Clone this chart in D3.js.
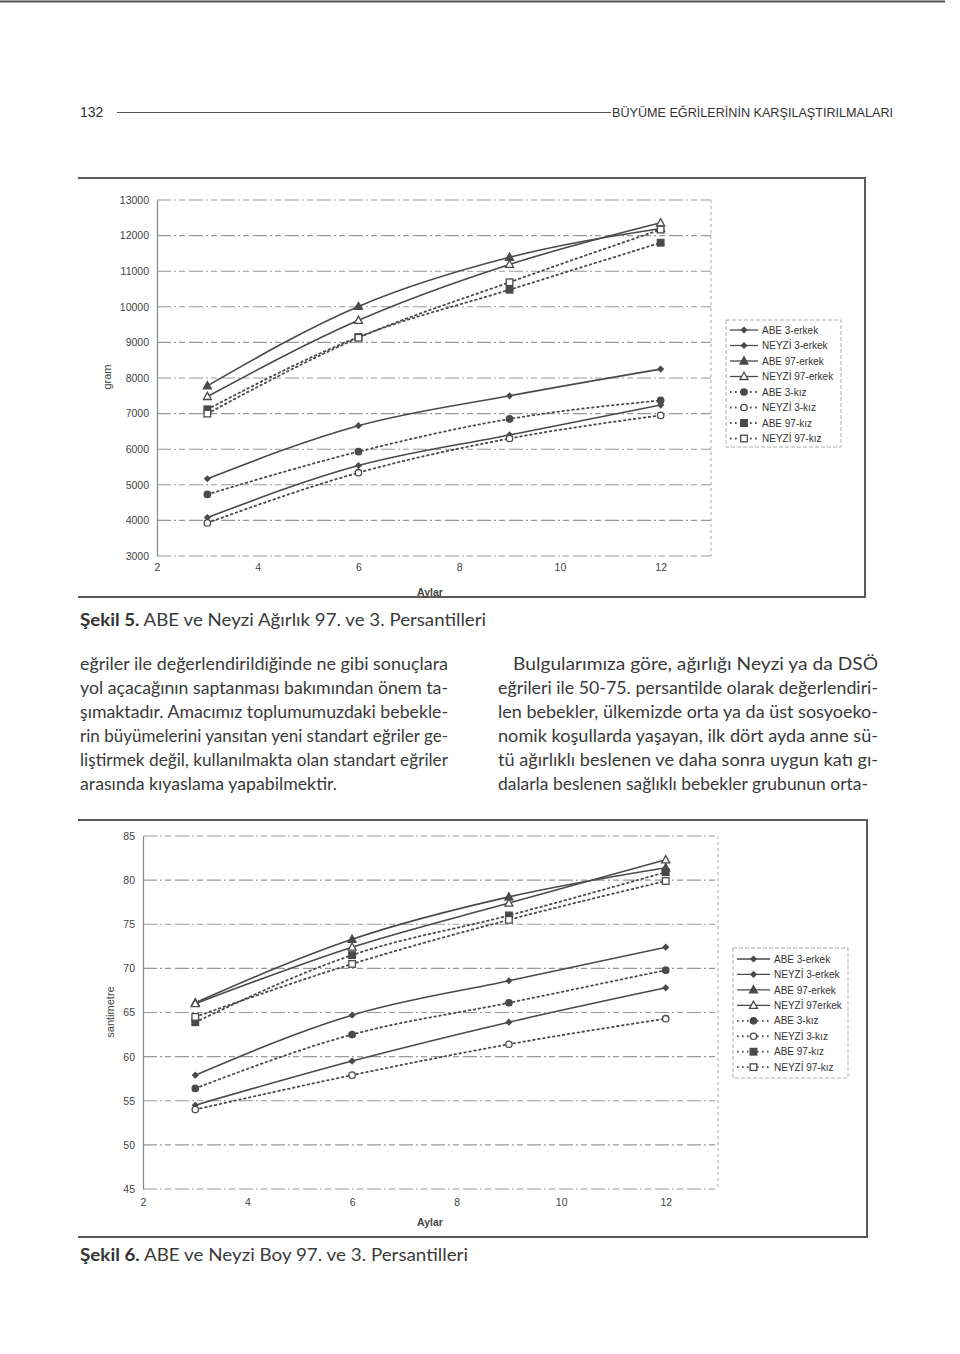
<!doctype html>
<html>
<head>
<meta charset="utf-8">
<script src="https://cdn.jsdelivr.net/npm/d3@7"></script>
<style>
    html, body { margin: 0; padding: 0; background: #fff; }
    svg { display: block; }
    .tick-label { font-family: "Liberation Sans", Arial, sans-serif; font-size: 10.5px; fill: #444; }
    .legend-label { font-family: "Liberation Sans", Arial, sans-serif; font-size: 10px; fill: #333; }
    .body-text { font-family: Lato, "Open Sans", sans-serif; font-size: 16.5px; fill: #3a3a3a; }
</style>
</head>
<body>
<svg id="page" width="960" height="1354"></svg>
<script>
    // months on x
    var months = [3, 6, 9, 12];
    var xTicks = [2, 4, 6, 8, 10, 12];
    var weightTicks = [3000, 4000, 5000, 6000, 7000, 8000, 9000, 10000, 11000, 12000, 13000];
    var heightTicks = [45, 50, 55, 60, 65, 70, 75, 80, 85];

    var seriesNames = ["ABE 3-erkek", "NEYZİ 3-erkek", "ABE 97-erkek", "NEYZİ 97-erkek",
                       "ABE 3-kız", "NEYZİ 3-kız", "ABE 97-kız", "NEYZİ 97-kız"];
    var legendNames2 = ["ABE 3-erkek", "NEYZİ 3-erkek", "ABE 97-erkek", "NEYZİ 97erkek",
                        "ABE 3-kız", "NEYZİ 3-kız", "ABE 97-kız", "NEYZİ 97-kız"];
    var markerTypes = ["diamond", "diamond", "triangle", "triangle-open", "circle", "circle-open", "square", "square-open"];
    var dotted = [false, false, false, false, true, true, true, true];

    // Şekil 5 - ağırlık (gram)
    var abe3ErkekW    = [5170, 6660, 7500, 8250];
    var neyzi3ErkekW  = [4080, 5540, 6400, 7240];
    var abe97ErkekW   = [7780, 10010, 11390, 12200];
    var neyzi97ErkekW = [7480, 9620, 11190, 12360];
    var abe3KizW      = [4730, 5930, 6850, 7370];
    var neyzi3KizW    = [3930, 5340, 6300, 6950];
    var abe97KizW     = [7120, 9150, 10480, 11800];
    var neyzi97KizW   = [7000, 9130, 10690, 12170];

    // Şekil 6 - boy (santimetre)
    var abe3ErkekH    = [57.9, 64.7, 68.6, 72.4];
    var neyzi3ErkekH  = [54.5, 59.5, 63.9, 67.8];
    var abe97ErkekH   = [66.1, 73.3, 78.1, 81.4];
    var neyzi97ErkekH = [66.0, 72.4, 77.4, 82.3];
    var abe3KizH      = [56.4, 62.5, 66.1, 69.8];
    var neyzi3KizH    = [54.0, 57.9, 61.4, 64.3];
    var abe97KizH     = [63.9, 71.5, 76.0, 80.9];
    var neyzi97KizH   = [64.5, 70.5, 75.5, 79.9];

    var leftLines = [
        "eğriler ile değerlendirildiğinde ne gibi sonuçlara",
        "yol açacağının saptanması bakımından önem ta-",
        "şımaktadır. Amacımız toplumumuzdaki bebekle-",
        "rin büyümelerini yansıtan yeni standart eğriler ge-",
        "liştirmek değil, kullanılmakta olan standart eğriler",
        "arasında kıyaslama yapabilmektir."
    ];
    var rightLines = [
        "Bulgularımıza göre, ağırlığı Neyzi ya da DSÖ",
        "eğrileri ile 50-75. persantilde olarak değerlendiri-",
        "len bebekler, ülkemizde orta ya da üst sosyoeko-",
        "nomik koşullarda yaşayan, ilk dört ayda anne sü-",
        "tü ağırlıklı beslenen ve daha sonra uygun katı gı-",
        "dalarla beslenen sağlıklı bebekler grubunun orta-"
    ];

    var ink = "#4a4a4a";
    var svg = d3.select("#page");

    // top edge of scan
    svg.append("line").attr("x1", 0).attr("x2", 945).attr("y1", 1.5).attr("y2", 1.5)
        .attr("stroke", "#555").attr("stroke-width", 2);

    // running header
    svg.append("text").attr("x", 80).attr("y", 117)
        .style("font-family", "'Liberation Sans Narrow', 'Liberation Sans', sans-serif")
        .style("font-size", "14px").style("fill", "#333").text("132");
    svg.append("line").attr("x1", 117).attr("x2", 611).attr("y1", 112.5).attr("y2", 112.5)
        .attr("stroke", "#555").attr("stroke-width", 1);
    svg.append("text").attr("x", 612).attr("y", 117)
        .attr("textLength", 281).attr("lengthAdjust", "spacingAndGlyphs")
        .style("font-family", "'Liberation Sans Narrow', 'Liberation Sans', sans-serif")
        .style("font-size", "13.5px").style("fill", "#333")
        .text("BÜYÜME EĞRİLERİNİN KARŞILAŞTIRILMALARI");

    function drawMarker(g, type, x, y) {
        var s = 3.6;
        if (type === "diamond") {
            g.append("path").attr("d", "M" + x + "," + (y - s) + "L" + (x + s) + "," + y + "L" + x + "," + (y + s) + "L" + (x - s) + "," + y + "Z")
                .attr("fill", ink);
        } else if (type === "triangle" || type === "triangle-open") {
            g.append("path").attr("d", "M" + x + "," + (y - 4.2) + "L" + (x + 4) + "," + (y + 3) + "L" + (x - 4) + "," + (y + 3) + "Z")
                .attr("fill", type === "triangle" ? ink : "#fff").attr("stroke", ink).attr("stroke-width", 1.3);
        } else if (type === "circle" || type === "circle-open") {
            g.append("circle").attr("cx", x).attr("cy", y).attr("r", 3.2)
                .attr("fill", type === "circle" ? ink : "#fff").attr("stroke", ink).attr("stroke-width", 1.3);
        } else {
            g.append("rect").attr("x", x - 3.3).attr("y", y - 3.3).attr("width", 6.6).attr("height", 6.6)
                .attr("fill", type === "square" ? ink : "#fff").attr("stroke", ink).attr("stroke-width", 1.3);
        }
    }

    function drawChart(opt) {
        var g = svg.append("g");
        var x = d3.scaleLinear().domain([2, 13]).range([opt.left, opt.right]);
        var y = d3.scaleLinear().domain(opt.yDomain).range([opt.bottom, opt.top]);

        // frame (top, right, bottom)
        g.append("path")
            .attr("d", "M" + opt.box[0] + "," + opt.box[1] + "H" + opt.box[2] + "V" + opt.box[3] + "H" + opt.box[0])
            .attr("fill", "none").attr("stroke", "#5a5a5a").attr("stroke-width", 2);

        // gridlines
        g.append("g").selectAll("line").data(opt.yTicks).join("line")
            .attr("x1", opt.left).attr("x2", opt.right)
            .attr("y1", function(d){ return y(d); }).attr("y2", function(d){ return y(d); })
            .attr("stroke", "#999").attr("stroke-width", 1.1)
            .attr("stroke-dasharray", "14,3,2,3,6,4");
        g.append("line").attr("x1", opt.right).attr("x2", opt.right)
            .attr("y1", opt.top).attr("y2", opt.bottom)
            .attr("stroke", "#aaa").attr("stroke-dasharray", "3,3");

        // y axis
        var yAxis = d3.axisLeft(y).tickValues(opt.yTicks).tickFormat(d3.format("d")).tickSize(0).tickPadding(8);
        g.append("g").attr("transform", "translate(" + opt.left + ",0)").call(yAxis)
            .call(function(a){
                a.select(".domain").attr("stroke", "#888").attr("stroke-width", 1.2);
                a.selectAll("text").attr("class", "tick-label").attr("font-family", null).attr("font-size", null).attr("fill", null);
            });

        // x axis labels
        var xAxis = d3.axisBottom(x).tickValues(xTicks).tickSize(0).tickPadding(opt.xPad);
        g.append("g").attr("transform", "translate(0," + opt.bottom + ")").call(xAxis)
            .call(function(a){
                a.select(".domain").remove();
                a.selectAll("text").attr("class", "tick-label").attr("font-family", null).attr("font-size", null).attr("fill", null);
            });

        g.append("text").attr("class", "tick-label").attr("x", opt.xTitle[0]).attr("y", opt.xTitle[1])
            .attr("text-anchor", "middle").style("font-weight", "bold").style("font-size", "10.5px").text("Aylar");
        g.append("text").attr("class", "tick-label")
            .attr("transform", "translate(" + opt.yTitle[0] + "," + opt.yTitle[1] + ") rotate(-90)")
            .attr("text-anchor", "middle").style("font-size", "11px").text(opt.yLabel);

        var line = d3.line().x(function(d, i){ return x(months[i]); }).y(function(d){ return y(d); })
            .curve(d3.curveMonotoneX);

        opt.series.forEach(function(vals, k) {
            g.append("path").datum(vals).attr("d", line)
                .attr("fill", "none").attr("stroke", ink)
                .attr("stroke-width", dotted[k] ? 1.8 : 1.6)
                .attr("stroke-dasharray", dotted[k] ? "1.6,3.4" : null)
                .attr("stroke-linecap", "round");
        });
        opt.series.forEach(function(vals, k) {
            vals.forEach(function(v, i){ drawMarker(g, markerTypes[k], x(months[i]), y(v)); });
        });

        // legend
        var L = opt.legend;
        g.append("rect").attr("x", L.x).attr("y", L.y).attr("width", L.w).attr("height", L.h)
            .attr("fill", "#fff").attr("stroke", "#999").attr("stroke-width", 0.8).attr("stroke-dasharray", "4,2");
        opt.names.forEach(function(name, k) {
            var ry = L.y + L.first + k * L.step;
            g.append("line").attr("x1", L.x + 4).attr("x2", L.x + 4 + L.sample)
                .attr("y1", ry).attr("y2", ry).attr("stroke", ink)
                .attr("stroke-width", dotted[k] ? 1.8 : 1.3)
                .attr("stroke-dasharray", dotted[k] ? "1.6,3.4" : null);
            drawMarker(g, markerTypes[k], L.x + 4 + L.sample / 2, ry);
            g.append("text").attr("class", "legend-label").attr("x", L.x + 8 + L.sample).attr("y", ry + 3.6).text(name);
        });
    }

    drawChart({
        box: [78, 178, 865, 597],
        left: 157, right: 711, top: 200, bottom: 556,
        yDomain: [3000, 13000], yTicks: weightTicks, yLabel: "gram",
        xPad: 8, xTitle: [430, 596], yTitle: [111, 377],
        series: [abe3ErkekW, neyzi3ErkekW, abe97ErkekW, neyzi97ErkekW, abe3KizW, neyzi3KizW, abe97KizW, neyzi97KizW],
        names: seriesNames,
        legend: {x: 726, y: 320, w: 115, h: 127, first: 10, step: 15.5, sample: 28}
    });

    drawChart({
        box: [78, 820, 867, 1237],
        left: 143, right: 718, top: 836, bottom: 1189,
        yDomain: [45, 85], yTicks: heightTicks, yLabel: "santimetre",
        xPad: 10, xTitle: [430, 1226], yTitle: [114, 1012],
        series: [abe3ErkekH, neyzi3ErkekH, abe97ErkekH, neyzi97ErkekH, abe3KizH, neyzi3KizH, abe97KizH, neyzi97KizH],
        names: legendNames2,
        legend: {x: 733, y: 948, w: 115, h: 130, first: 11, step: 15.45, sample: 33}
    });

    // captions
    function caption(yPos, bold, rest, width) {
        var t = svg.append("text").attr("class", "body-text").attr("x", 80).attr("y", yPos)
            .attr("textLength", width).attr("lengthAdjust", "spacingAndGlyphs");
        t.append("tspan").style("font-weight", "bold").style("fill", "#333").text(bold);
        t.append("tspan").text(rest);
    }
    caption(626, "Şekil 5.", " ABE ve Neyzi Ağırlık 97. ve 3. Persantilleri", 406);
    caption(1261, "Şekil 6.", " ABE ve Neyzi Boy 97. ve 3. Persantilleri", 388);

    // body columns, justified
    leftLines.forEach(function(s, i) {
        var t = svg.append("text").attr("class", "body-text").attr("x", 80).attr("y", 670 + i * 24).text(s);
        if (i < leftLines.length - 1) t.attr("textLength", 368).attr("lengthAdjust", "spacingAndGlyphs");
        else t.attr("textLength", 257).attr("lengthAdjust", "spacingAndGlyphs");
    });
    rightLines.forEach(function(s, i) {
        var x0 = i === 0 ? 513 : 498;
        svg.append("text").attr("class", "body-text").attr("x", x0).attr("y", 670 + i * 24)
            .attr("textLength", (i === rightLines.length - 1 ? 868 : 878) - x0)
            .attr("lengthAdjust", "spacingAndGlyphs").text(s);
    });
</script>
</body>
</html>
